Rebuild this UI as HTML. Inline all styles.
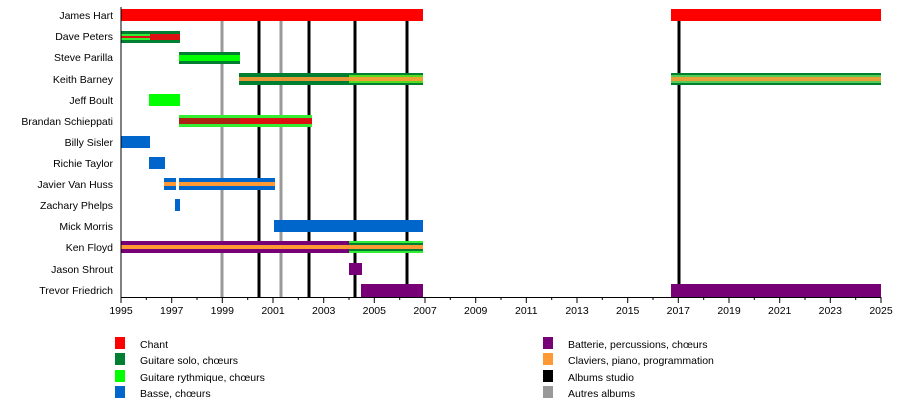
<!DOCTYPE html>
<html><head><meta charset="utf-8"><style>
html,body{margin:0;padding:0;background:#fff;width:900px;height:404px;overflow:hidden}
text{font-family:"Liberation Sans",sans-serif;font-size:10.5px;fill:#000}
</style></head><body>
<svg width="900" height="404" viewBox="0 0 900 404" xmlns="http://www.w3.org/2000/svg">
<!-- album lines -->
<g stroke-width="3">
<line x1="222" y1="15" x2="222" y2="297" stroke="#999"/>
<line x1="281" y1="15" x2="281" y2="297" stroke="#999"/>
<line x1="259" y1="15" x2="259" y2="297" stroke="#000"/>
<line x1="309" y1="15" x2="309" y2="297" stroke="#000"/>
<line x1="355" y1="15" x2="355" y2="297" stroke="#000"/>
<line x1="407" y1="15" x2="407" y2="297" stroke="#000"/>
<line x1="679" y1="15" x2="679" y2="297" stroke="#000"/>
</g>
<!-- bars -->
<g>
<!-- James Hart -->
<rect x="121" y="9" width="302" height="12" fill="#ff0000"/>
<rect x="671" y="9" width="210" height="12" fill="#ff0000"/>
<!-- Dave Peters -->
<rect x="121" y="31" width="59" height="12" fill="#007f33"/>
<rect x="121" y="34" width="29" height="6" fill="#33ee33"/>
<rect x="121" y="36" width="59" height="2" fill="#dd1111"/>
<rect x="150" y="34" width="30" height="6" fill="#dd1111"/>
<!-- Steve Parilla -->
<rect x="179" y="52" width="61" height="12" fill="#007f33"/>
<rect x="179" y="55" width="61" height="6" fill="#00ff00"/>
<!-- Keith Barney -->
<rect x="239" y="73" width="184" height="12" fill="#007f33"/>
<rect x="349" y="75" width="74" height="8" fill="#55dd22"/>
<rect x="239" y="77" width="184" height="4" fill="#ff9933" opacity="0.9"/>
<rect x="671" y="73" width="210" height="12" fill="#007f33"/>
<rect x="671" y="75" width="210" height="8" fill="#55cc55"/>
<rect x="671" y="77" width="210" height="4" fill="#ff9933" opacity="0.85"/>
<!-- Jeff Boult -->
<rect x="149" y="94" width="31" height="12" fill="#00ff00"/>
<!-- Brandan -->
<rect x="179" y="115" width="133" height="12" fill="#33ee33"/>
<rect x="179" y="118" width="133" height="6" fill="#dd1111"/>
<rect x="179" y="118" width="61" height="6" fill="#aa2211"/>
<!-- Billy -->
<rect x="121" y="136" width="29" height="12" fill="#0066cc"/>
<!-- Richie -->
<rect x="149" y="157" width="16" height="12" fill="#0066cc"/>
<!-- Javier -->
<rect x="164" y="178" width="12" height="12" fill="#0066cc"/>
<rect x="179" y="178" width="96" height="12" fill="#0066cc"/>
<rect x="164" y="182" width="12" height="4" fill="#ff9933"/>
<rect x="179" y="182" width="96" height="4" fill="#ff9933"/>
<!-- Zachary -->
<rect x="175" y="199" width="5" height="12" fill="#0066cc"/>
<!-- Mick -->
<rect x="274" y="220" width="149" height="12" fill="#0066cc"/>
<!-- Ken Floyd -->
<rect x="121" y="241" width="228" height="12" fill="#770077"/>
<rect x="349" y="241" width="74" height="12" fill="#33ee33"/>
<rect x="349" y="243" width="74" height="8" fill="#007f33"/>
<rect x="121" y="245" width="302" height="4" fill="#ff9933"/>
<!-- Jason -->
<rect x="349" y="263" width="13" height="12" fill="#770077"/>
<!-- Trevor -->
<rect x="361" y="284" width="62" height="13" fill="#770077"/>
<rect x="671" y="284" width="210" height="13" fill="#770077"/>
</g>
<!-- axes -->
<line x1="121" y1="7" x2="121" y2="297" stroke="#000"/>
<line x1="121" y1="297.5" x2="881" y2="297.5" stroke="#000"/>
<g stroke="#000">
<line x1="121" y1="297" x2="121" y2="303"/><line x1="146.3" y1="297" x2="146.3" y2="300"/>
<line x1="171.7" y1="297" x2="171.7" y2="303"/><line x1="197" y1="297" x2="197" y2="300"/>
<line x1="222.3" y1="297" x2="222.3" y2="303"/><line x1="247.7" y1="297" x2="247.7" y2="300"/>
<line x1="273" y1="297" x2="273" y2="303"/><line x1="298.3" y1="297" x2="298.3" y2="300"/>
<line x1="323.7" y1="297" x2="323.7" y2="303"/><line x1="349" y1="297" x2="349" y2="300"/>
<line x1="374.3" y1="297" x2="374.3" y2="303"/><line x1="399.7" y1="297" x2="399.7" y2="300"/>
<line x1="425" y1="297" x2="425" y2="303"/><line x1="450.3" y1="297" x2="450.3" y2="300"/>
<line x1="475.7" y1="297" x2="475.7" y2="303"/><line x1="501" y1="297" x2="501" y2="300"/>
<line x1="526.3" y1="297" x2="526.3" y2="303"/><line x1="551.7" y1="297" x2="551.7" y2="300"/>
<line x1="577" y1="297" x2="577" y2="303"/><line x1="602.3" y1="297" x2="602.3" y2="300"/>
<line x1="627.7" y1="297" x2="627.7" y2="303"/><line x1="653" y1="297" x2="653" y2="300"/>
<line x1="678.3" y1="297" x2="678.3" y2="303"/><line x1="703.7" y1="297" x2="703.7" y2="300"/>
<line x1="729" y1="297" x2="729" y2="303"/><line x1="754.3" y1="297" x2="754.3" y2="300"/>
<line x1="779.7" y1="297" x2="779.7" y2="303"/><line x1="805" y1="297" x2="805" y2="300"/>
<line x1="830.3" y1="297" x2="830.3" y2="303"/><line x1="855.7" y1="297" x2="855.7" y2="300"/>
<line x1="881" y1="297" x2="881" y2="303"/>
</g>
<g text-anchor="middle">
<text x="121" y="314">1995</text><text x="171.7" y="314">1997</text><text x="222.3" y="314">1999</text>
<text x="273" y="314">2001</text><text x="323.7" y="314">2003</text><text x="374.3" y="314">2005</text>
<text x="425" y="314">2007</text><text x="475.7" y="314">2009</text><text x="526.3" y="314">2011</text>
<text x="577" y="314">2013</text><text x="627.7" y="314">2015</text><text x="678.3" y="314">2017</text>
<text x="729" y="314">2019</text><text x="779.7" y="314">2021</text><text x="830.3" y="314">2023</text>
<text x="881" y="314">2025</text>
</g>
<g text-anchor="end">
<text x="113" y="19">James Hart</text>
<text x="113" y="40">Dave Peters</text>
<text x="113" y="61">Steve Parilla</text>
<text x="113" y="83">Keith Barney</text>
<text x="113" y="104">Jeff Boult</text>
<text x="113" y="125">Brandan Schieppati</text>
<text x="113" y="146">Billy Sisler</text>
<text x="113" y="167">Richie Taylor</text>
<text x="113" y="188">Javier Van Huss</text>
<text x="113" y="209">Zachary Phelps</text>
<text x="113" y="230">Mick Morris</text>
<text x="113" y="251">Ken Floyd</text>
<text x="113" y="273">Jason Shrout</text>
<text x="113" y="294">Trevor Friedrich</text>
</g>
<!-- legend -->
<rect x="115" y="337" width="10" height="12" fill="#ff0000"/>
<rect x="115" y="353" width="10" height="12" fill="#007f33"/>
<rect x="115" y="370" width="10" height="12" fill="#00ff00"/>
<rect x="115" y="386" width="10" height="12" fill="#0066cc"/>
<text x="140" y="348">Chant</text>
<text x="140" y="364">Guitare solo, chœurs</text>
<text x="140" y="381">Guitare rythmique, chœurs</text>
<text x="140" y="397">Basse, chœurs</text>
<rect x="543" y="337" width="10" height="12" fill="#770077"/>
<rect x="543" y="353" width="10" height="12" fill="#ff9933"/>
<rect x="543" y="370" width="10" height="12" fill="#000"/>
<rect x="543" y="386" width="10" height="12" fill="#999"/>
<text x="568" y="348">Batterie, percussions, chœurs</text>
<text x="568" y="364">Claviers, piano, programmation</text>
<text x="568" y="381">Albums studio</text>
<text x="568" y="397">Autres albums</text>
</svg>
</body></html>
